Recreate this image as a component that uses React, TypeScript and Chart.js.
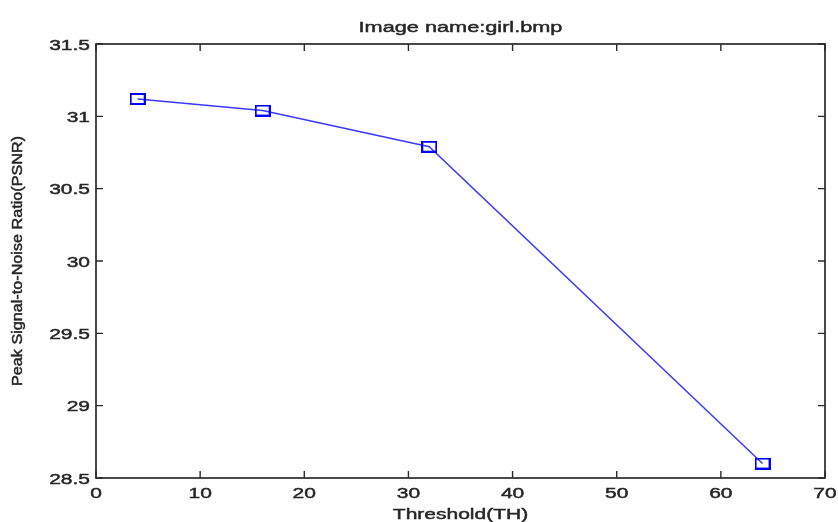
import React, { useEffect, useRef } from "react";
import { Chart, registerables } from "chart.js";

Chart.register(...registerables);

const thresholds = [4, 16, 32, 64];
const psnrValues = [31.12, 31.04, 30.79, 28.6];
const xTickValues = [0, 10, 20, 30, 40, 50, 60, 70];
const yTickValues = [28.5, 29, 29.5, 30, 30.5, 31, 31.5];
const titleText = "Image name:girl.bmp";
const xTitleText = "Threshold(TH)";
const yTitleText = "Peak Signal-to-Noise Ratio(PSNR)";

const FONT = "Arial, 'Liberation Sans', sans-serif";
const SX = 1.4;
const TEXT_COLOR = "#262626";

function makeMarker(): HTMLCanvasElement {
  const c = document.createElement("canvas");
  c.width = 16;
  c.height = 12;
  const g = c.getContext("2d")!;
  g.strokeStyle = "#0000ff";
  g.lineWidth = 2;
  g.strokeRect(1, 1, 14, 10);
  return c;
}

function stretchText(
  ctx: CanvasRenderingContext2D,
  text: string,
  x: number,
  y: number,
  align: CanvasTextAlign,
  font: string,
  sx: number
) {
  ctx.save();
  ctx.translate(x, y);
  ctx.scale(sx, 1);
  ctx.font = font;
  ctx.textAlign = align;
  ctx.textBaseline = "alphabetic";
  ctx.fillStyle = TEXT_COLOR;
  ctx.strokeStyle = TEXT_COLOR;
  ctx.lineWidth = 0.45;
  ctx.fillText(text, 0, 0);
  ctx.strokeText(text, 0, 0);
  ctx.restore();
}

const matlabAxes = {
  id: "matlabAxes",
  beforeDatasetsDraw(chart: any) {
    const { ctx, chartArea } = chart;
    const xs = chart.scales.x;
    const ys = chart.scales.y;
    const { left, right, top, bottom } = chartArea;
    ctx.save();
    ctx.strokeStyle = "#2a2a2a";
    ctx.lineWidth = 1.7;
    ctx.strokeRect(left, top, right - left, bottom - top);
    ctx.lineWidth = 1.4;
    const tl = 7;
    ctx.beginPath();
    xTickValues.forEach((v) => {
      const px = xs.getPixelForValue(v);
      ctx.moveTo(px, bottom);
      ctx.lineTo(px, bottom - tl);
      ctx.moveTo(px, top);
      ctx.lineTo(px, top + tl);
    });
    yTickValues.forEach((v) => {
      const py = ys.getPixelForValue(v);
      ctx.moveTo(left, py);
      ctx.lineTo(left + tl, py);
      ctx.moveTo(right, py);
      ctx.lineTo(right - tl, py);
    });
    ctx.stroke();
    ctx.restore();
  },
  afterDraw(chart: any) {
    const { ctx, chartArea } = chart;
    const xs = chart.scales.x;
    const ys = chart.scales.y;
    const { left, right, top, bottom } = chartArea;
    const tickFont = `15px ${FONT}`;
    xTickValues.forEach((v) => {
      stretchText(ctx, String(v), xs.getPixelForValue(v), bottom + 20, "center", tickFont, SX);
    });
    yTickValues.forEach((v) => {
      stretchText(ctx, String(v), left - 6, ys.getPixelForValue(v) + 5.5, "right", tickFont, SX);
    });
    const cx = (left + right) / 2;
    stretchText(ctx, titleText, cx, 31.5, "center", `15.5px ${FONT}`, SX);
    stretchText(ctx, xTitleText, cx, 519, "center", `15px ${FONT}`, SX);

    // y axis title, rotated
    ctx.save();
    ctx.font = `12px ${FONT}`;
    const w = ctx.measureText(yTitleText).width;
    const targetLen = 250;
    ctx.translate(18.5, (top + bottom) / 2);
    ctx.rotate(-Math.PI / 2);
    ctx.scale(targetLen / w, 1.15);
    ctx.textAlign = "center";
    ctx.textBaseline = "middle";
    ctx.fillStyle = TEXT_COLOR;
    ctx.strokeStyle = TEXT_COLOR;
    ctx.lineWidth = 0.4;
    ctx.fillText(yTitleText, 0, 0);
    ctx.strokeText(yTitleText, 0, 0);
    ctx.restore();
  },
};

export default function App() {
  const ref = useRef<HTMLCanvasElement | null>(null);
  useEffect(() => {
    if (!ref.current) return;
    const marker = makeMarker();
    const chart = new Chart(ref.current, {
      type: "line",
      data: {
        datasets: [
          {
            data: thresholds.map((x, i) => ({ x, y: psnrValues[i] })),
            borderColor: "#3a3aff",
            borderWidth: 1.5,
            pointStyle: marker as any,
            pointRadius: 6,
            pointHoverRadius: 6,
            tension: 0,
            fill: false,
            clip: false as any,
          },
        ],
      },
      options: {
        responsive: false,
        animation: false,
        events: [],
        layout: { padding: { top: 44, right: 13, left: 0, bottom: 0 } },
        plugins: { legend: { display: false }, title: { display: false }, tooltip: { enabled: false } },
        scales: {
          x: {
            type: "linear",
            min: 0,
            max: 70,
            ticks: { display: false, stepSize: 10 },
            grid: { display: false },
            border: { display: false },
            afterFit: (s: any) => {
              s.height = 44;
            },
          },
          y: {
            type: "linear",
            min: 28.5,
            max: 31.5,
            ticks: { display: false, stepSize: 0.5 },
            grid: { display: false },
            border: { display: false },
            afterFit: (s: any) => {
              s.width = 96;
            },
          },
        },
      },
      plugins: [matlabAxes],
    });
    return () => chart.destroy();
  }, []);
  return (
    <div style={{ position: "fixed", left: 0, top: 0, width: 838, height: 522, background: "#fff" }}>
      <canvas ref={ref} width={838} height={522} />
    </div>
  );
}
